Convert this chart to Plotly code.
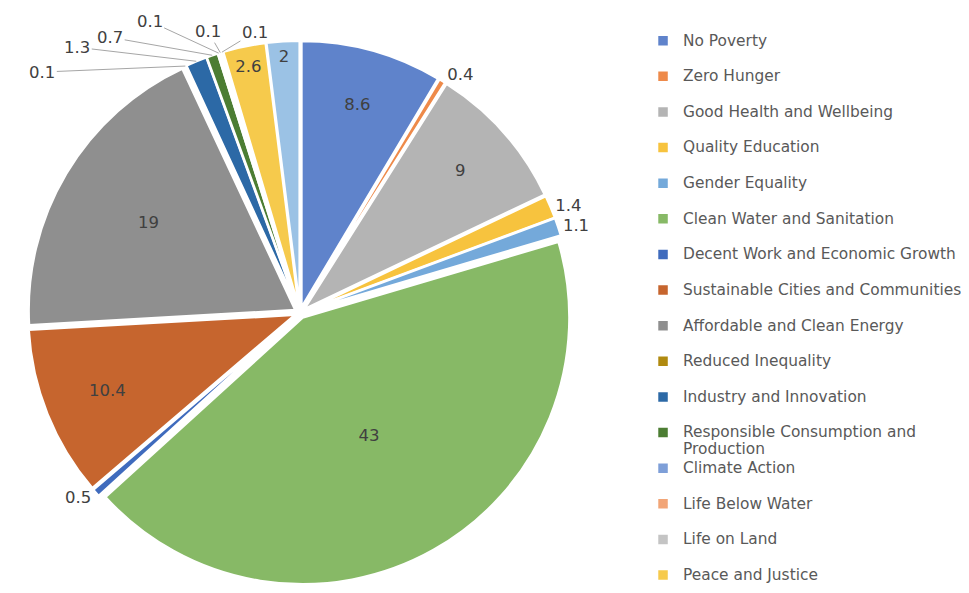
import math
import plotly.graph_objects as go

labels = [
    "No Poverty", "Zero Hunger", "Good Health and Wellbeing", "Quality Education",
    "Gender Equality", "Clean Water and Sanitation", "Decent Work and Economic Growth",
    "Sustainable Cities and Communities", "Affordable and Clean Energy",
    "Reduced Inequality", "Industry and Innovation",
    "Responsible Consumption and<br>Production", "Climate Action",
    "Life Below Water", "Life on Land", "Peace and Justice", "Partnerships for the Goals",
]
values = [8.6, 0.4, 9, 1.4, 1.1, 43, 0.5, 10.4, 19, 0.1, 1.3, 0.7, 0.1, 0.1, 0.1, 2.6, 2]
colors = [
    "#5F83CB", "#EE8A4A", "#B4B4B4", "#F7C33E", "#74A9DA", "#87B966", "#3F6BBD",
    "#C6652E", "#8F8F8F", "#B08A10", "#2C69A6", "#4C7D33", "#7E9FD8", "#F2A577",
    "#C4C4C4", "#F6CA4C", "#9BC2E5",
]
# how each value label is shown: inside the slice, outside (auto), or as a callout
label_modes = [
    "inside", "outside", "inside", "outside", "outside", "inside", "outside",
    "inside", "inside", "callout", "callout", "callout", "callout", "callout",
    "callout", "inside", "inside",
]
# pixel offsets of the callout texts from their slice edge (style only)
callout_offsets = [(-143, 6), (-119, -14), (-102, -18), (-69, -32), (-12, -21), (33, -20)]
# the original legend is cut off by the chart's bottom edge after this many entries
LEGEND_VISIBLE = 16

W, H = 961, 577
PULL = 0.02
DOM_X = [0.0205, 0.5872]
DOM_Y = [0.0, 0.9433]
TEXT_FONT = dict(family="DejaVu Sans", size=16.5, color="#404040")

legend_names = []
for i, lab in enumerate(labels):
    if i >= LEGEND_VISIBLE:
        legend_names.append("")
        continue
    parts = lab.split("<br>")
    span = "<br>".join("<span style='font-size:15.4px'>" + p + "</span>" for p in parts)
    if len(parts) == 1:
        span = span + "<br> "
    legend_names.append(span)

text_positions = ["none" if m == "callout" else m for m in label_modes]
hover_names = [lab.replace("<br>", " ") for lab in labels]

fig = go.Figure(go.Pie(
    labels=legend_names,
    values=values,
    customdata=hover_names,
    sort=False,
    direction="clockwise",
    rotation=0,
    marker=dict(colors=colors, line=dict(color="white", width=2.5)),
    pull=[PULL] * len(values),
    texttemplate="%{value}",
    textposition=text_positions,
    insidetextorientation="horizontal",
    textfont=TEXT_FONT,
    outsidetextfont=TEXT_FONT,
    hovertemplate="%{customdata}: %{value}<extra></extra>",
    domain=dict(x=DOM_X, y=DOM_Y),
))

# callout labels for the tiny slices, anchored at each slice's outer edge
cx = (DOM_X[0] + DOM_X[1]) / 2 * W
cy = H - (DOM_Y[0] + DOM_Y[1]) / 2 * H
r = min((DOM_X[1] - DOM_X[0]) * W, (DOM_Y[1] - DOM_Y[0]) * H) / 2 / (1 + PULL)
R = r * (1 + PULL)
total = sum(values)
cum = 0.0
k = 0
for v, mode in zip(values, label_modes):
    mid = (cum + v / 2) / total * 2 * math.pi
    cum += v
    if mode != "callout":
        continue
    px = cx + R * math.sin(mid)
    py = cy - R * math.cos(mid)
    ax, ay = callout_offsets[k]
    k += 1
    fig.add_annotation(
        x=px / W, y=1 - py / H, xref="paper", yref="paper",
        text=f"{v}", showarrow=True, ax=ax, ay=ay,
        arrowhead=0, arrowwidth=1, arrowcolor="#A6A6A6", standoff=0,
        font=TEXT_FONT,
    )

fig.update_layout(
    width=W, height=H,
    margin=dict(l=0, r=0, t=0, b=0, autoexpand=False),
    paper_bgcolor="white",
    plot_bgcolor="white",
    showlegend=True,
    legend=dict(
        x=0.6608, xanchor="left", y=0.9688, yanchor="top",
        font=dict(family="DejaVu Sans", size=12.55, color="#595959"),
        valign="top",
        maxheight=900,
        bgcolor="rgba(0,0,0,0)",
    ),
)

fig.write_html("out.html")
